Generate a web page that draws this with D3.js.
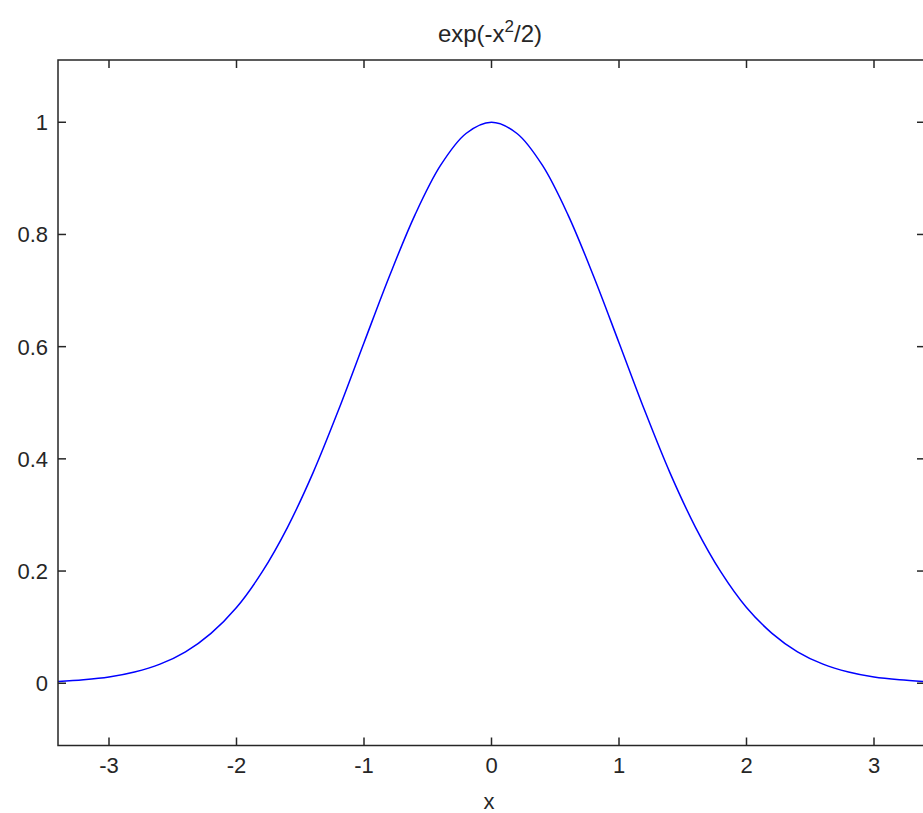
<!DOCTYPE html>
<html>
<head>
<meta charset="utf-8">
<script src="https://cdn.jsdelivr.net/npm/d3@7"></script>
<style>
    body { margin: 0; background: #ffffff; }
    text { font-family: "Liberation Sans", Arial, sans-serif; fill: #262626; }
</style>
</head>
<body>
<svg id="chart" width="923" height="813"></svg>
<script>
"use strict";

// values
const xValues = [-3.4, -3.2, -3.0, -2.8, -2.6, -2.4, -2.2, -2.0, -1.8, -1.6, -1.4, -1.2, -1.0, -0.8, -0.6, -0.4, -0.2, 0,
    0.2, 0.4, 0.6, 0.8, 1.0, 1.2, 1.4, 1.6, 1.8, 2.0, 2.2, 2.4, 2.6, 2.8, 3.0, 3.2, 3.4]
const yValues = [0.003, 0.006, 0.011, 0.020, 0.034, 0.056, 0.089, 0.135, 0.198, 0.278, 0.375, 0.487, 0.607, 0.726, 0.835, 0.923, 0.980, 1.000,
    0.980, 0.923, 0.835, 0.726, 0.607, 0.487, 0.375, 0.278, 0.198, 0.135, 0.089, 0.056, 0.034, 0.020, 0.011, 0.006, 0.003]
const xTicks = [-3, -2, -1, 0, 1, 2, 3]
const yTicks = [0, 0.2, 0.4, 0.6, 0.8, 1]

const plotLeft = 58, plotRight = 925, plotTop = 60, plotBottom = 745.5
const tickLen = 8
const axisColor = "#262626"
const labelSize = 22

let svg = d3.select("#chart")

let x = d3.scaleLinear()
    .domain([-3.4, 3.4])
    .range([plotLeft, plotRight]);
let y = d3.scaleLinear()
    .domain([-0.111, 1.111])
    .range([plotBottom, plotTop]);

// the curve itself
function drawCurve() {
    let data = xValues.map(function (d, i) { return { x: d, y: yValues[i] } })
    svg.append("path")
        .datum(data)
        .attr("fill", "none")
        .attr("stroke", "#0000ff")
        .attr("stroke-width", 1.5)
        .attr("d", d3.line()
            .curve(d3.curveCatmullRom)
            .x(function (d) { return x(d.x) })
            .y(function (d) { return y(d.y) })
        )
}

// box + inward ticks on all four sides
function drawAxes() {
    svg.append("rect")
        .attr("x", plotLeft)
        .attr("y", plotTop)
        .attr("width", plotRight - plotLeft)
        .attr("height", plotBottom - plotTop)
        .attr("fill", "none")
        .attr("stroke", axisColor)
        .attr("stroke-width", 1.5)

    let g = svg.append("g")
        .attr("stroke", axisColor)
        .attr("stroke-width", 1.5)

    xTicks.forEach(function (t) {
        g.append("line").attr("x1", x(t)).attr("x2", x(t)).attr("y1", plotBottom).attr("y2", plotBottom - tickLen)
        g.append("line").attr("x1", x(t)).attr("x2", x(t)).attr("y1", plotTop).attr("y2", plotTop + tickLen)
    })
    yTicks.forEach(function (t) {
        g.append("line").attr("x1", plotLeft).attr("x2", plotLeft + tickLen).attr("y1", y(t)).attr("y2", y(t))
        g.append("line").attr("x1", plotRight).attr("x2", plotRight - tickLen).attr("y1", y(t)).attr("y2", y(t))
    })

    // tick labels
    svg.selectAll(".xlab")
        .data(xTicks)
        .enter().append("text")
        .attr("x", function (d) { return x(d) })
        .attr("y", 773)
        .attr("text-anchor", "middle")
        .attr("font-size", labelSize)
        .text(function (d) { return d })

    svg.selectAll(".ylab")
        .data(yTicks)
        .enter().append("text")
        .attr("x", 48)
        .attr("y", function (d) { return y(d) + 8 })
        .attr("text-anchor", "end")
        .attr("font-size", labelSize)
        .text(function (d) { return d })
}

function drawLabels() {
    // title with superscript 2
    let title = svg.append("text")
        .attr("x", 490)
        .attr("y", 42)
        .attr("text-anchor", "middle")
        .attr("font-size", 24)
    title.append("tspan").text("exp(-x")
    title.append("tspan").attr("dy", -10).attr("font-size", 17).text("2")
    title.append("tspan").attr("dy", 10).text("/2)")

    svg.append("text")
        .attr("x", 489)
        .attr("y", 809)
        .attr("text-anchor", "middle")
        .attr("font-size", labelSize)
        .text("x")
}

drawCurve()
drawAxes()
drawLabels()
</script>
</body>
</html>
